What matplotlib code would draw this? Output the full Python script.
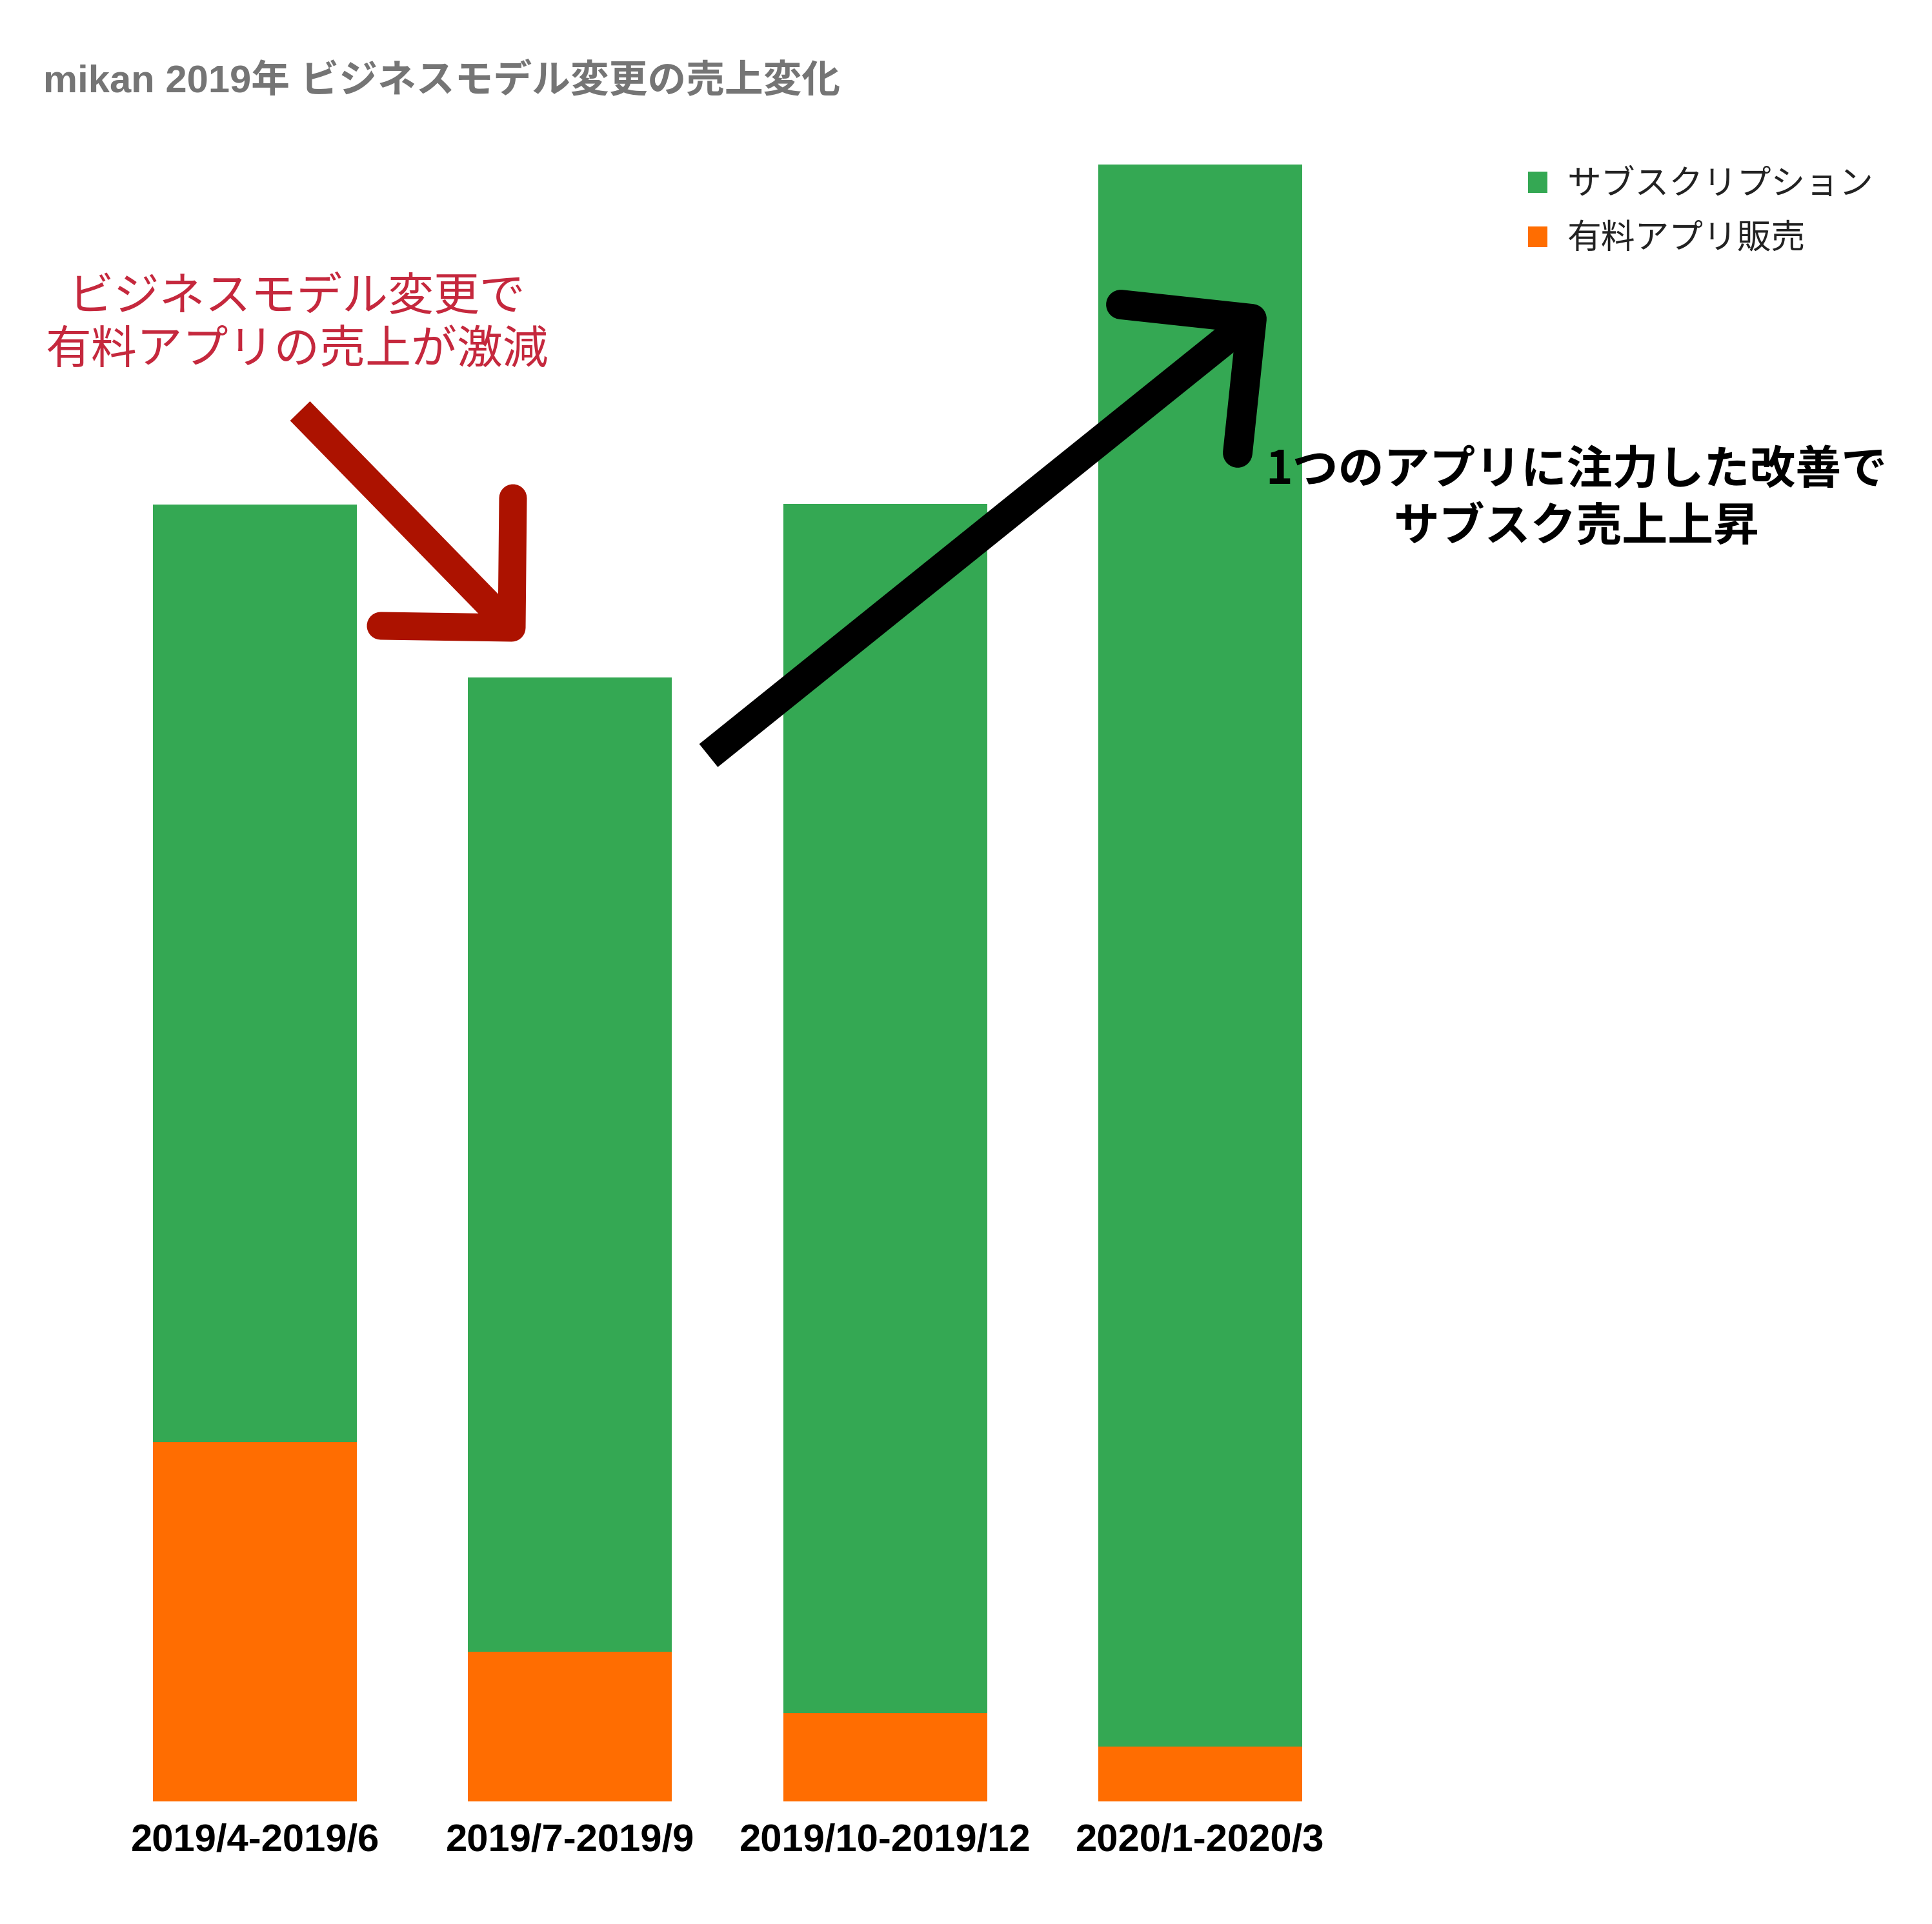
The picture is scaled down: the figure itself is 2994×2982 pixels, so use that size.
import matplotlib
matplotlib.use("Agg")
import matplotlib.pyplot as plt
from matplotlib.patches import Patch
from matplotlib.lines import Line2D

# Data (arbitrary units)
periods = ["2019/4-2019/6", "2019/7-2019/9", "2019/10-2019/12", "2020/1-2020/3"]
app_sales = [55.7, 23.2, 13.7, 8.5]          # 有料アプリ販売
subscription = [145.3, 151.0, 187.4, 245.2]  # サブスクリプション

series_names = ["サブスクリプション", "有料アプリ販売"]
title_text = "mikan 2019年 ビジネスモデル変更の売上変化"
note_down = "ビジネスモデル変更で\n有料アプリの売上が激減"
note_up = "1つのアプリに注力した改善で\nサブスク売上上昇"

GREEN = "#34a853"
ORANGE = "#ff6d01"

W, H = 2994, 2982
fig = plt.figure(figsize=(W / 100, H / 100), dpi=100)
fig.patch.set_facecolor("white")

# axes placement: bars 488 px apart, baseline at y=2792 px
ax = fig.add_axes([151 / W, 1 - 2792 / H, 1953 / W, 2700 / H])
x = list(range(len(periods)))
ax.bar(x, app_sales, width=0.647, color=ORANGE, linewidth=0)
ax.bar(x, subscription, width=0.647, bottom=app_sales, color=GREEN, linewidth=0)
ax.set_xlim(-0.5, 3.5)
ax.set_ylim(0, 270)
ax.set_yticks([])
for s in ax.spines.values():
    s.set_visible(False)
ax.set_xticks(x)
ax.set_xticklabels(periods, fontsize=43, fontweight="bold",
                   family=["Liberation Sans", "DejaVu Sans"])
ax.tick_params(axis="x", length=0, pad=24)

# title
fig.text(67 / W, 1 - 126 / H, title_text, fontsize=43, fontweight="bold",
         color="#757575", ha="left", va="center",
         family=["Liberation Sans", "Noto Sans CJK JP"])

# legend
handles = [Patch(facecolor=GREEN, edgecolor="none"),
           Patch(facecolor=ORANGE, edgecolor="none")]
leg = ax.legend(handles, series_names, loc="upper left",
                bbox_to_anchor=(2368 / W, 1 - 258 / H),
                bbox_transform=fig.transFigure, frameon=False,
                prop={"family": "Noto Sans CJK JP", "size": 38},
                handlelength=0.57, handleheight=0.57, handletextpad=0.58,
                labelspacing=0.56, borderpad=0, borderaxespad=0)
for t in leg.get_texts():
    t.set_color("#222222")

# annotations
fig.text(460 / W, 1 - 502 / H, note_down, fontsize=51, color="#c5283d",
         ha="center", va="center", linespacing=1.18,
         family=["Noto Sans CJK JP"])
fig.text(2443 / W, 1 - 773 / H, note_up, fontsize=51, fontweight="bold",
         color="black", ha="center", va="center", linespacing=1.29,
         family=["Noto Sans CJK JP"])


def fx(px):
    return px / W


def fy(py):
    return 1 - py / H


def draw_arrow(start, tip, arm1, arm2, color, lw):
    fig.add_artist(Line2D([fx(start[0]), fx(tip[0])], [fy(start[1]), fy(tip[1])],
                          color=color, lw=lw, solid_capstyle="butt",
                          transform=fig.transFigure))
    fig.add_artist(Line2D([fx(arm1[0]), fx(tip[0]), fx(arm2[0])],
                          [fy(arm1[1]), fy(tip[1]), fy(arm2[1])],
                          color=color, lw=lw, solid_capstyle="round",
                          solid_joinstyle="round", transform=fig.transFigure))


# red arrow (down)
draw_arrow((465, 637), (793, 973), (590, 970), (795, 772), "#ac1200", 31)
# black arrow (up)
draw_arrow((1098, 1171), (1940, 494), (1737, 472), (1918, 702), "black", 33)

fig.savefig("out.png", dpi=100, facecolor="white")
